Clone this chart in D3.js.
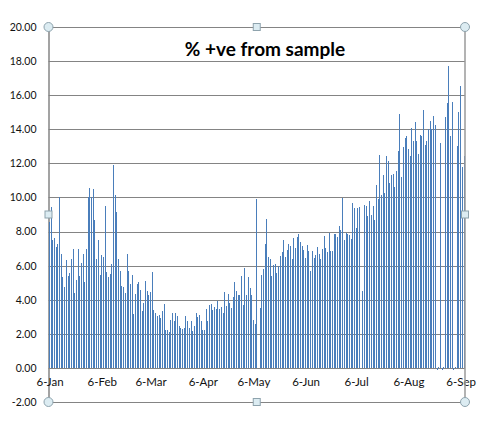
<!DOCTYPE html>
<html>
<head>
<meta charset="utf-8">
<script src="https://cdn.jsdelivr.net/npm/d3@7"></script>
<style>
  body { margin: 0; background: #fff; }
  text { font-family: Lato, "Open Sans", sans-serif; }
</style>
</head>
<body>
<div id="bar-plot"></div>
<script>
// daily % positive, starting 6-Jan
const startDay = "6-Jan 2020";
const positivity = [
  8.57, 9.43, 7.5, 7.6, 7.08, 7.25, 10.0, 6.67, 5.31, 4.73,
  6.31, 5.37, 5.55, 6.37, 6.96, 4.37, 5.14, 6.96, 5.37, 6.14,
  6.67, 5.02, 6.96, 10.0, 10.55, 10.0, 10.49, 8.69, 6.37, 7.49,
  5.43, 6.61, 6.49, 9.49, 5.61, 5.31, 5.49, 6.08, 11.9, 10.14,
  9.14, 6.37, 5.67, 4.78, 4.73, 4.37, 6.67, 5.67, 4.9,
  5.43, 3.14, 4.31, 4.9, 5.02, 4.55, 3.31, 3.78, 5.08, 4.49,
  4.25, 4.43, 5.61, 3.37, 3.2, 3.02, 3.08, 2.9, 3.31, 3.73,
  2.25, 2.25, 2.08, 2.84, 3.2, 2.78, 3.2, 3.02, 2.43, 2.37,
  2.31, 2.37, 3.02, 2.73, 2.37, 2.78, 2.14, 2.43, 3.25, 2.96,
  3.08, 2.78, 2.2, 2.2, 3.43, 2.78, 3.67, 3.73, 3.37, 3.55,
  3.43, 3.9, 3.43, 3.55, 3.25, 4.43, 3.61, 4.31, 3.78, 3.49,
  4.14, 5.02, 4.49, 4.25, 4.25, 5.37, 3.67, 5.84, 4.25, 5.31,
  4.67, 4.25, 2.84, 2.55, 9.9, 0, 3.49, 5.43, 5.78, 7.25,
  8.73, 6.49, 6.37, 5.37, 6.02, 6.08, 5.55, 5.96, 6.55, 6.78,
  7.49, 6.49, 6.9, 7.25, 7.14, 6.37, 7.61, 7.02, 7.67,
  7.84, 7.37, 7.14, 6.9, 6.43, 7.2, 6.84, 5.67, 6.84, 6.43,
  6.61, 7.08, 6.67, 6.37, 6.96, 7.73, 7.02, 6.78, 7.9, 6.84,
  6.84, 7.84, 7.84, 7.67, 8.31, 8.08, 9.96, 7.49, 7.9, 7.84,
  7.78, 7.55, 9.67, 9.37, 8.2, 9.37, 9.43, 0, 4.49, 9.55,
  9.49, 8.9, 9.78, 8.96, 9.49, 8.67, 10.73, 9.9, 12.49, 10.14,
  11.29, 10.24, 12.41, 12.12, 10.82, 11.29, 11.35, 10.59, 11.53, 12.71,
  14.88, 11.18, 12.94, 13.47, 13.59, 12.82, 12.41, 14.06, 13.29, 14.41,
  13.29, 12.53, 13.65, 13.59, 15.12, 13.06, 13.29, 14.0, 14.47, 14.0,
  14.76, 14.24, -0.1, 0.05, 13.18, -0.1, 0.05, 14.71, 15.53, 17.7,
  13.59, 15.59, -0.1, 0.05, 13.0, 15.0, 16.53, 11.76, 12.41
];
const xTickLabels = ["6-Jan", "6-Feb", "6-Mar", "6-Apr", "6-May", "6-Jun", "6-Jul", "6-Aug", "6-Sep"];
const yTicks = [-2, 0, 2, 4, 6, 8, 10, 12, 14, 16, 18, 20];
const chartTitle = "% +ve from sample";

const width = 489, height = 439;
const plot = {left: 48.5, right: 465, top: 27, bottom: 402};
const gridColor = "#848484";

const parseDay = d3.timeParse("%d-%b %Y");
const day0 = parseDay(startDay);
const days = positivity.map((v, i) => d3.timeDay.offset(day0, i));
const tickDays = xTickLabels.map(s => parseDay(s + " 2020"));

const svg = d3.select("#bar-plot")
  .append("svg")
    .attr("width", width)
    .attr("height", height);

const x = d3.scaleTime()
  .domain([days[0], days[days.length - 1]])
  .range([49.5, 464]);

const y = d3.scaleLinear()
  .domain([-2, 20])
  .range([plot.bottom, plot.top]);

// gridlines
svg.append("g")
  .selectAll("line")
  .data(yTicks)
  .enter()
  .append("line")
    .attr("x1", plot.left)
    .attr("x2", plot.right)
    .attr("y1", d => Math.round(y(d)) + 0.5)
    .attr("y2", d => Math.round(y(d)) + 0.5)
    .attr("stroke", gridColor)
    .attr("stroke-width", 1.2);

// y axis labels
svg.append("g")
  .attr("transform", "translate(" + plot.left + ",0)")
  .call(d3.axisLeft(y).tickValues(yTicks).tickSize(0).tickPadding(12)
          .tickFormat(d => d.toFixed(2)))
  .call(g => g.select(".domain").attr("stroke", gridColor).attr("stroke-width", 1.5))
  .selectAll("text")
    .attr("font-size", "10.5px")
    .attr("fill", "#111");

// bars
svg.append("g")
  .selectAll("rect")
  .data(positivity)
  .enter()
  .append("rect")
    .attr("x", (d, i) => x(days[i]) - 0.5)
    .attr("y", d => y(Math.max(0, d)))
    .attr("width", 1)
    .attr("height", d => Math.abs(y(d) - y(0)))
    .attr("fill", "#4a7ebb")
    .attr("shape-rendering", "crispEdges");

// x axis along zero
svg.append("g")
  .attr("transform", "translate(0," + (Math.round(y(0)) + 0.5) + ")")
  .call(d3.axisBottom(x).tickValues(tickDays).tickSize(0).tickPadding(9)
          .tickFormat((d, i) => xTickLabels[i]))
  .call(g => g.select(".domain").remove())
  .selectAll("text")
    .attr("font-size", "11.5px")
    .attr("fill", "#111");

// plot area border (right side)
svg.append("line")
  .attr("x1", plot.right).attr("x2", plot.right)
  .attr("y1", plot.top).attr("y2", plot.bottom)
  .attr("stroke", "#9a9a9a")
  .attr("stroke-width", 1.5);

// title
svg.append("text")
  .attr("x", 265)
  .attr("y", 56)
  .attr("text-anchor", "middle")
  .attr("font-size", "19px")
  .attr("font-weight", "bold")
  .attr("fill", "#000")
  .text(chartTitle);

// selection handles
const midX = (plot.left + plot.right) / 2, midY = (plot.top + plot.bottom) / 2;
const corners = [[plot.left, plot.top], [plot.right, plot.top], [plot.left, plot.bottom], [plot.right, plot.bottom]];
const sides = [[midX, plot.top], [midX, plot.bottom], [plot.left, midY], [plot.right, midY]];

svg.append("g")
  .selectAll("circle")
  .data(corners)
  .enter()
  .append("circle")
    .attr("cx", d => d[0])
    .attr("cy", d => d[1])
    .attr("r", 4.5)
    .attr("fill", "#dcecf2")
    .attr("stroke", "#8ea3ad");

svg.append("g")
  .selectAll("rect")
  .data(sides)
  .enter()
  .append("rect")
    .attr("x", d => d[0] - 3.5)
    .attr("y", d => d[1] - 3.5)
    .attr("width", 7)
    .attr("height", 7)
    .attr("fill", "#dcecf2")
    .attr("stroke", "#8ea3ad");
</script>
</body>
</html>
